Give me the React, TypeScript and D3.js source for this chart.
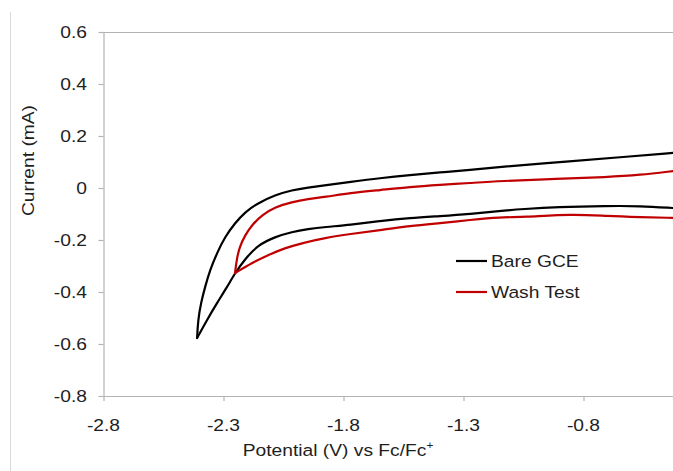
import React from "react";
import * as d3 from "d3";

const xTicks = [-2.8, -2.3, -1.8, -1.3, -0.8];
const yTicks = [0.6, 0.4, 0.2, 0, -0.2, -0.4, -0.6, -0.8];

const bareV = [-0.427, -0.635, -0.844, -1.148, -1.273, -1.398, -1.523, -1.648, -1.773, -1.877, -1.948, -2.015, -2.085, -2.156, -2.210, -2.252, -2.294, -2.327, -2.356, -2.377, -2.394, -2.406, -2.410, -2.369, -2.327, -2.285, -2.252, -2.210, -2.156, -2.085, -2.015, -1.948, -1.877, -1.773, -1.648, -1.523, -1.398, -1.273, -1.148, -1.052, -0.910, -0.702, -0.565, -0.427];
const bareI = [0.135, 0.119, 0.104, 0.081, 0.069, 0.060, 0.050, 0.038, 0.023, 0.010, 0.002, -0.008, -0.027, -0.058, -0.092, -0.135, -0.188, -0.250, -0.315, -0.381, -0.442, -0.508, -0.577, -0.508, -0.442, -0.381, -0.327, -0.273, -0.219, -0.188, -0.169, -0.158, -0.150, -0.142, -0.127, -0.115, -0.108, -0.100, -0.088, -0.081, -0.073, -0.069, -0.069, -0.077];

const washV = [-0.427, -0.565, -0.702, -0.910, -1.148, -1.273, -1.398, -1.523, -1.648, -1.773, -1.877, -1.948, -2.015, -2.085, -2.140, -2.181, -2.210, -2.233, -2.244, -2.252, -2.181, -2.115, -2.044, -1.973, -1.877, -1.773, -1.648, -1.523, -1.398, -1.273, -1.148, -1.052, -0.844, -0.702, -0.565, -0.427];
const washI = [0.065, 0.050, 0.042, 0.035, 0.027, 0.019, 0.012, 0.004, -0.008, -0.019, -0.035, -0.042, -0.054, -0.073, -0.104, -0.142, -0.181, -0.227, -0.269, -0.327, -0.288, -0.258, -0.231, -0.212, -0.192, -0.177, -0.162, -0.146, -0.135, -0.123, -0.112, -0.112, -0.100, -0.108, -0.112, -0.115];

const seriesNames = ["Bare GCE", "Wash Test"];
const seriesColors = ["#000000", "#c00000"];

const W = 673;
const H = 471;
const FONT = "'Liberation Sans', Arial, sans-serif";
const SX = 1.18;
const TXT = "#1e1e1e";
const AX = "#b3b3b3";

const fmt = (t: number) => (t === 0 ? "0" : t.toFixed(1));

export default function App() {
  const x = d3.scaleLinear().domain([-2.8, -0.3]).range([103.5, 703.5]);
  const y = d3.scaleLinear().domain([-0.8, 0.6]).range([396, 32]);
  const line = d3
    .line<[number, number]>()
    .x((d) => x(d[0]))
    .y((d) => y(d[1]))
    .curve(d3.curveBasis);

  const build = (vs: number[], is: number[]) => {
    const pts: [number, number][] = vs.map((v, i) => [v, is[i]]);
    const tip = d3.minIndex(vs);
    return [pts.slice(0, tip + 1), pts.slice(tip)];
  };
  const series = [build(bareV, bareI), build(washV, washI)];

  const x0 = x(-2.8);
  const yTop = y(0.6);
  const yBot = y(-0.8);

  return (
    <svg
      width={W}
      height={H}
      style={{ position: "absolute", left: 0, top: 0, background: "#fff" }}
      fontFamily={FONT}
    >
      <rect x={0} y={0} width={W} height={H} fill="#fff" />
      <line x1={10.5} x2={10.5} y1={12} y2={H} stroke="#d9d9d9" strokeWidth={1} />
      <line x1={x0} x2={W} y1={yTop + 0.5} y2={yTop + 0.5} stroke={AX} strokeWidth={1.2} />
      <line x1={x0 + 0.5} x2={x0 + 0.5} y1={yTop} y2={yBot} stroke={AX} strokeWidth={1.2} />
      {yTicks.map((t) => (
        <g key={"yt" + t}>
          <line x1={x0 - 5} x2={x0} y1={y(t) + 0.5} y2={y(t) + 0.5} stroke={AX} strokeWidth={1.2} />
          <text
            transform={`translate(87,${y(t) + 5.8}) scale(${SX},1)`}
            textAnchor="end"
            fontSize={16.3}
            fill={TXT}
          >
            {fmt(t)}
          </text>
        </g>
      ))}
      <line x1={x0} x2={W} y1={yBot + 0.5} y2={yBot + 0.5} stroke={AX} strokeWidth={1.2} />
      {xTicks.map((t) => (
        <g key={"xt" + t}>
          <line x1={x(t) + 0.5} x2={x(t) + 0.5} y1={yBot} y2={yBot + 5} stroke={AX} strokeWidth={1.2} />
          <text
            transform={`translate(${x(t)},${431}) scale(${SX},1)`}
            textAnchor="middle"
            fontSize={16.3}
            fill={TXT}
          >
            {fmt(t)}
          </text>
        </g>
      ))}
      <text
        transform={`translate(338,456) scale(${SX},1)`}
        textAnchor="middle"
        fontSize={16.3}
        fill={TXT}
      >
        Potential (V) vs Fc/Fc
        <tspan fontSize={10} dy={-7}>+</tspan>
      </text>
      <text
        transform={`translate(34,160.5) rotate(-90) scale(${SX},1)`}
        textAnchor="middle"
        fontSize={16.3}
        fill={TXT}
      >
        Current (mA)
      </text>
      <g>
        {series.map((halves, i) =>
          halves.map((h, j) => (
            <path
              key={seriesNames[i] + j}
              d={line(h) || ""}
              fill="none"
              stroke={seriesColors[i]}
              strokeWidth={2.2}
              strokeLinejoin="round"
              strokeLinecap="round"
            />
          ))
        )}
      </g>
      {seriesNames.map((n, i) => (
        <g key={"lg" + n}>
          <line x1={456} x2={487} y1={261 + i * 31} y2={261 + i * 31} stroke={seriesColors[i]} strokeWidth={2.2} />
          <text
            transform={`translate(491,${261 + i * 31 + 5.8}) scale(${SX},1)`}
            fontSize={16.3}
            fill={TXT}
          >
            {n}
          </text>
        </g>
      ))}
    </svg>
  );
}
